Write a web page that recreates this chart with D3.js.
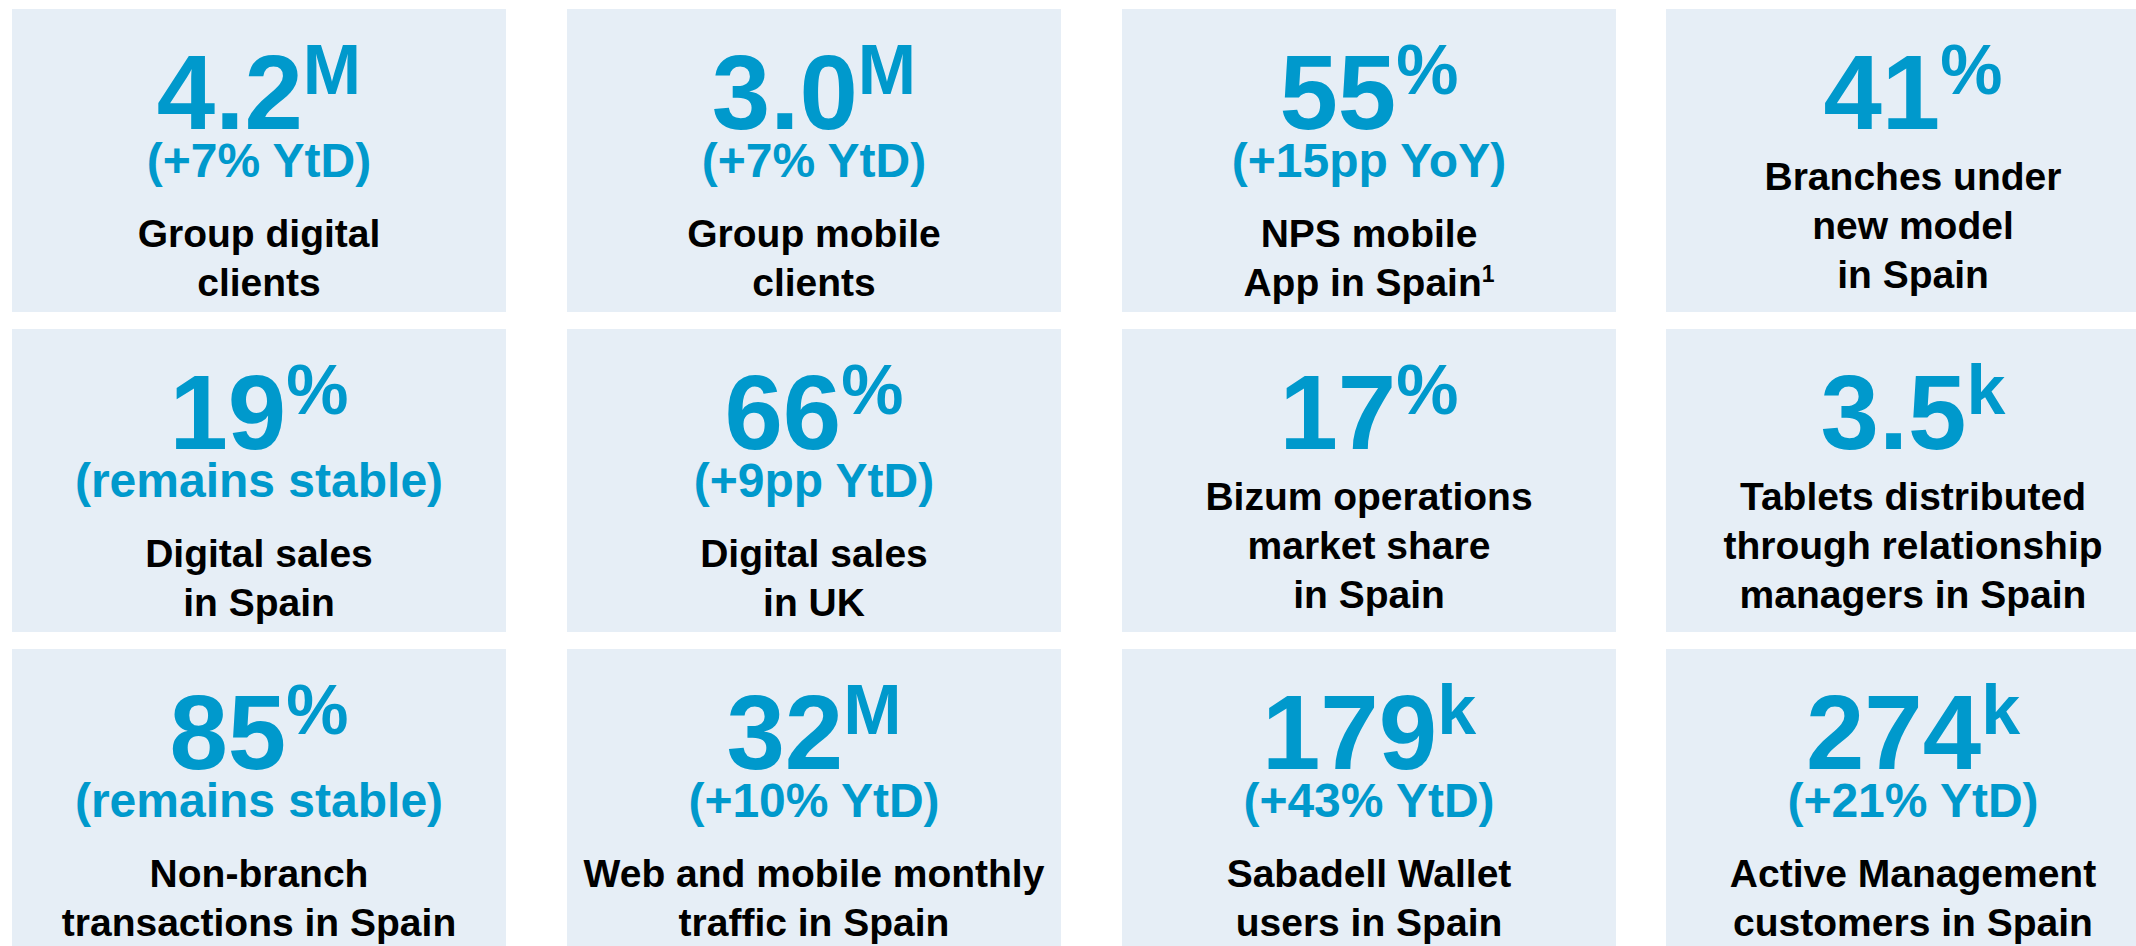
<!DOCTYPE html>
<html>
<head>
<meta charset="utf-8">
<script src="https://cdn.jsdelivr.net/npm/d3@7"></script>
<style>
  html, body { margin: 0; padding: 0; background: #ffffff; overflow: hidden; }
  svg { display: block; }
</style>
</head>
<body>
<div id="chart"></div>
<script>
// KPI values, row by row (4 columns x 3 rows)
const values = ['4.2', '3.0', '55', '41', '19', '66', '17', '3.5', '85', '32', '179', '274'];
const units = ['M', 'M', '%', '%', '%', '%', '%', 'k', '%', 'M', 'k', 'k'];
const changes = ['(+7% YtD)', '(+7% YtD)', '(+15pp YoY)', null,
                 '(remains stable)', '(+9pp YtD)', null, null,
                 '(remains stable)', '(+10% YtD)', '(+43% YtD)', '(+21% YtD)'];
const labels = [
  ['Group digital', 'clients'],
  ['Group mobile', 'clients'],
  ['NPS mobile', 'App in Spain'],
  ['Branches under', 'new model', 'in Spain'],
  ['Digital sales', 'in Spain'],
  ['Digital sales', 'in UK'],
  ['Bizum operations', 'market share', 'in Spain'],
  ['Tablets distributed', 'through relationship', 'managers in Spain'],
  ['Non-branch', 'transactions in Spain'],
  ['Web and mobile monthly', 'traffic in Spain'],
  ['Sabadell Wallet', 'users in Spain'],
  ['Active Management', 'customers in Spain']
];
const footnotes = [null, null, '1', null, null, null, null, null, null, null, null, null];

const width = 2136;
const height = 946;
const blue = '#0099cc';
const tileFill = '#e6eef6';
const font = '"Liberation Sans", Arial, Helvetica, sans-serif';

const data = values.map((v, i) => ({
  value: v,
  unit: units[i],
  change: changes[i],
  label: labels[i],
  note: footnotes[i],
  col: i % 4,
  row: Math.floor(i / 4)
}));

const x = d3.scaleOrdinal().domain([0, 1, 2, 3]).range([12, 567, 1122, 1666]);
const y = d3.scaleOrdinal().domain([0, 1, 2]).range([9, 329, 649]);
const tileW = 494;
const tileH = 303;

const svg = d3.select('#chart')
  .append('svg')
  .attr('width', width)
  .attr('height', height)
  .style('font-family', font)
  .style('font-weight', 'bold');

const tiles = svg.selectAll('.tile')
  .data(data)
  .enter()
  .append('g')
  .attr('class', 'tile')
  .attr('transform', (d) => `translate(${x(d.col)},${y(d.row)})`);

tiles.append('rect')
  .attr('width', tileW)
  .attr('height', tileH)
  .attr('fill', tileFill);

// big number with superscript unit
const num = tiles.append('text')
  .attr('x', tileW / 2)
  .attr('y', 120)
  .attr('text-anchor', 'middle')
  .attr('fill', blue)
  .style('font-size', '105px');
num.append('tspan').text((d) => d.value);
num.append('tspan')
  .attr('dy', -35)
  .style('font-size', '70px')
  .text((d) => d.unit);

// change line
tiles.filter((d) => d.change)
  .append('text')
  .attr('x', tileW / 2)
  .attr('y', 168)
  .attr('text-anchor', 'middle')
  .attr('fill', blue)
  .style('font-size', '48px')
  .text((d) => d.change);

// description lines
tiles.each(function (d) {
  const g = d3.select(this);
  const start = d.change ? 238 : 181;
  d.label.forEach((line, j) => {
    const t = g.append('text')
      .attr('x', tileW / 2)
      .attr('y', start + j * 49)
      .attr('text-anchor', 'middle')
      .attr('fill', '#000000')
      .style('font-size', '39px')
      .text(line);
    if (d.note && j === d.label.length - 1) {
      t.append('tspan')
        .attr('dy', -14)
        .style('font-size', '23px')
        .text(d.note);
    }
  });
});
</script>
</body>
</html>
